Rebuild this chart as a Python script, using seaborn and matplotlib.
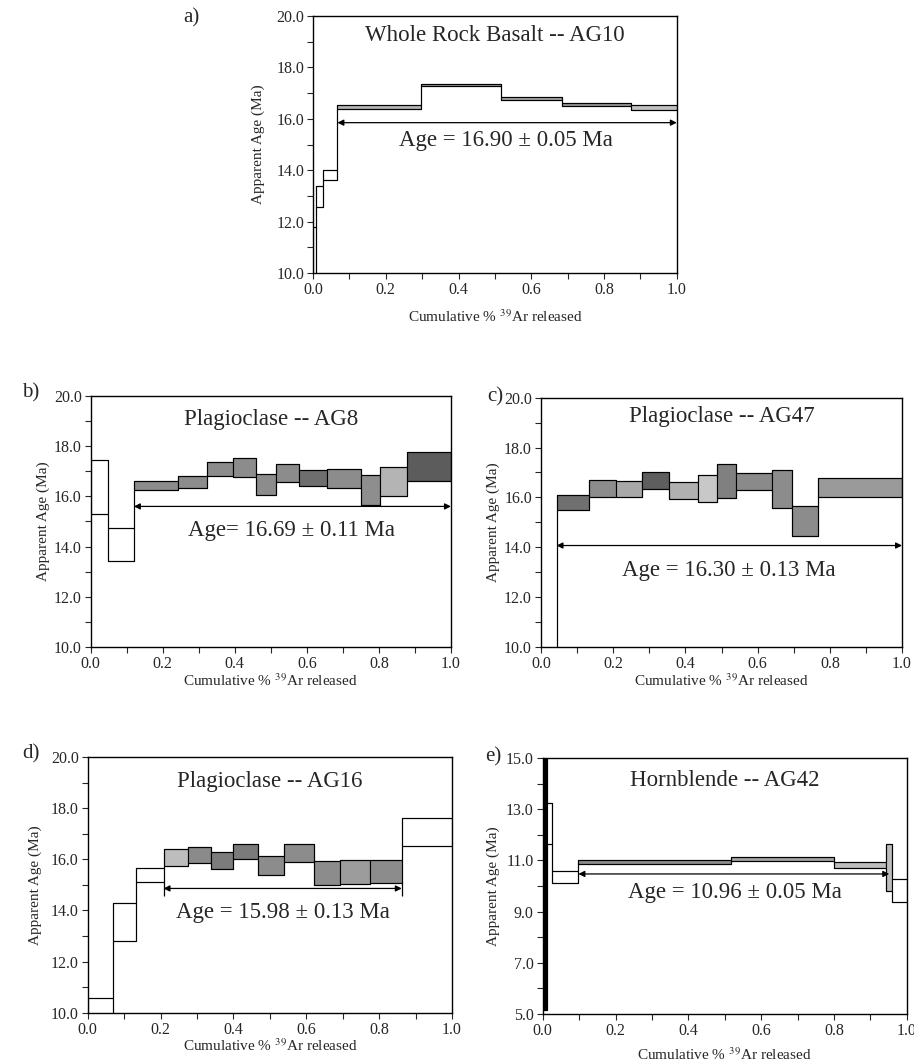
import numpy as np
import pandas as pd
import seaborn as sns
import matplotlib.pyplot as plt
from matplotlib.ticker import MultipleLocator, FormatStrFormatter

# step heating spectra: cumulative 39Ar fraction edges, lower/upper age (Ma)
a_edges = [0.0, 0.008, 0.027, 0.067, 0.297, 0.517, 0.684, 0.874, 1.0]
a_lo = [9.0, 12.57, 13.60, 16.39, 17.26, 16.74, 16.49, 16.33]
a_hi = [11.8, 13.40, 14.00, 16.55, 17.37, 16.85, 16.61, 16.52]

b_edges = [0.0, 0.049, 0.120, 0.241, 0.324, 0.396, 0.459, 0.515, 0.579, 0.655, 0.749, 0.803, 0.877, 1.0]
b_lo = [15.29, 13.42, 16.27, 16.32, 16.80, 16.76, 16.07, 16.56, 16.41, 16.35, 15.67, 16.01, 16.63]
b_hi = [17.43, 14.76, 16.63, 16.80, 17.35, 17.54, 16.90, 17.27, 17.06, 17.08, 16.87, 17.19, 17.77]

c_edges = [0.0, 0.043, 0.133, 0.207, 0.280, 0.354, 0.436, 0.488, 0.541, 0.640, 0.694, 0.768, 1.0]
c_lo = [8.5, 15.48, 16.00, 16.00, 16.32, 15.92, 15.82, 15.97, 16.31, 15.57, 14.44, 16.02]
c_hi = [9.5, 16.08, 16.71, 16.66, 17.01, 16.62, 16.91, 17.33, 16.98, 17.11, 15.64, 16.78]

d_edges = [0.0, 0.068, 0.132, 0.208, 0.274, 0.338, 0.398, 0.468, 0.538, 0.621, 0.693, 0.775, 0.862, 1.0]
d_lo = [9.5, 12.80, 15.10, 15.75, 15.84, 15.62, 16.01, 15.38, 15.88, 15.01, 15.03, 15.08, 16.51]
d_hi = [10.59, 14.28, 15.65, 16.39, 16.48, 16.30, 16.61, 16.12, 16.61, 15.92, 15.96, 15.99, 17.63]

e_edges = [0.0, 0.012, 0.026, 0.098, 0.517, 0.801, 0.943, 0.959, 1.0]
e_lo = [5.17, 11.64, 10.12, 10.86, 10.96, 10.69, 9.82, 9.36]
e_hi = [16.0, 13.24, 10.60, 11.00, 11.12, 10.92, 11.64, 10.27]

titles = ['Whole Rock Basalt -- AG10', 'Plagioclase -- AG8', 'Plagioclase -- AG47',
          'Plagioclase -- AG16', 'Hornblende -- AG42']
age_texts = ['Age = 16.90 \u00b1 0.05 Ma', 'Age= 16.69 \u00b1 0.11 Ma', 'Age = 16.30 \u00b1 0.13 Ma',
             'Age = 15.98 \u00b1 0.13 Ma', 'Age = 10.96 \u00b1 0.05 Ma']
# plateau arrows: start, end, level
plateau_x0 = [0.067, 0.120, 0.043, 0.208, 0.098]
plateau_x1 = [1.0, 1.0, 1.0, 0.862, 0.952]
plateau_y = [15.85, 15.60, 14.07, 14.86, 10.47]
letters = ['a)', 'b)', 'c)', 'd)', 'e)']

# fill shades per step
W = 'white'
a_fill = [W, W, W, '#b4b4b4', '#a0a0a0', '#a8a8a8', '#989898', '#c0c0c0']
b_fill = [W, W, '#8c8c8c', '#8c8c8c', '#8c8c8c', '#8c8c8c', '#8c8c8c', '#8c8c8c',
          '#6e6e6e', '#8c8c8c', '#8e8e8e', '#b4b4b4', '#5c5c5c']
c_fill = [W, '#707070', '#8c8c8c', '#a8a8a8', '#5e5e5e', '#b0b0b0', '#c8c8c8',
          '#808080', '#8a8a8a', '#8c8c8c', '#8c8c8c', '#9a9a9a']
d_fill = [W, W, W, '#bdbdbd', '#8a8a8a', '#7c7c7c', '#7a7a7a', '#8c8c8c', '#8c8c8c',
          '#8c8c8c', '#9c9c9c', '#8c8c8c', W]
e_fill = ['black', W, W, '#8c8c8c', '#a4a4a4', '#bdbdbd', '#bdbdbd', W]

sns.set_style('ticks')
plt.rcParams['font.family'] = ['Liberation Serif', 'DejaVu Serif']
plt.rcParams['mathtext.fontset'] = 'stix'

fig = plt.figure(figsize=(9.14, 10.61), dpi=100)
rects = [[0.3425, 0.7427, 0.398, 0.2422],
         [0.0992, 0.3902, 0.3942, 0.2366],
         [0.5919, 0.3902, 0.3950, 0.2350],
         [0.0960, 0.0455, 0.3986, 0.2410],
         [0.5938, 0.0443, 0.3982, 0.2413]]
xlab_y = [-0.136, -0.102, -0.102, -0.095, -0.125]
ylab_x = [-0.132, -0.114, -0.114, -0.126, -0.117]
letter_pos = [(183, 18), (22, 393), (487, 397), (22, 754), (485, 757)]
title_y = [19.25, 19.06, 19.23, 19.06, 14.11]
age_xy = [(0.53, 15.16), (0.558, 14.65), (0.52, 13.06), (0.537, 13.91), (0.528, 9.73)]

panels = [(a_edges, a_lo, a_hi, a_fill), (b_edges, b_lo, b_hi, b_fill),
          (c_edges, c_lo, c_hi, c_fill), (d_edges, d_lo, d_hi, d_fill),
          (e_edges, e_lo, e_hi, e_fill)]

for i, (edges, lo, hi, fill) in enumerate(panels):
    ax = fig.add_axes(rects[i])
    edges = np.array(edges)
    lo = np.array(lo)
    hi = np.array(hi)
    ax.bar(edges[:-1], hi - lo, width=np.diff(edges), bottom=lo, align='edge',
           color=fill, edgecolor='black', linewidth=0.8, zorder=2)
    df = pd.DataFrame({'x': edges, 'top': np.append(hi, hi[-1]), 'bot': np.append(lo, lo[-1])})
    sns.lineplot(data=df, x='x', y='top', drawstyle='steps-post', color='black',
                 lw=0.8, estimator=None, ax=ax, zorder=3)
    sns.lineplot(data=df, x='x', y='bot', drawstyle='steps-post', color='black',
                 lw=0.8, estimator=None, ax=ax, zorder=3)

    if i == 4:
        ax.set_ylim(5, 15)
        ax.set_yticks([5, 7, 9, 11, 13, 15])
    else:
        ax.set_ylim(10, 20)
        ax.yaxis.set_major_locator(MultipleLocator(2))
    ax.yaxis.set_minor_locator(MultipleLocator(1))
    ax.set_xlim(0, 1)
    ax.xaxis.set_major_locator(MultipleLocator(0.2))
    ax.xaxis.set_minor_locator(MultipleLocator(0.1))
    ax.xaxis.set_major_formatter(FormatStrFormatter('%.1f'))
    ax.yaxis.set_major_formatter(FormatStrFormatter('%.1f'))
    ax.tick_params(which='both', direction='out', length=4.5, width=0.8,
                   labelsize=11.5, pad=2, top=False, right=False)
    for s in ax.spines.values():
        s.set_linewidth(1.0)
        s.set_color('black')

    ax.set_xlabel('Cumulative % $^{39}$Ar released', fontsize=11)
    ax.set_ylabel('Apparent Age (Ma)', fontsize=11)
    ax.xaxis.set_label_coords(0.5, xlab_y[i])
    ax.yaxis.set_label_coords(ylab_x[i], 0.5)

    ax.text(0.5, title_y[i], titles[i], ha='center', va='center', fontsize=16.5)
    ax.text(age_xy[i][0], age_xy[i][1], age_texts[i], ha='center', va='center', fontsize=16.5)
    ax.annotate('', xy=(plateau_x1[i], plateau_y[i]), xytext=(plateau_x0[i], plateau_y[i]),
                arrowprops=dict(arrowstyle='<|-|>', lw=0.9, color='black',
                                mutation_scale=9, shrinkA=0, shrinkB=0), zorder=4)
    if i == 3:
        ax.vlines([plateau_x0[i], plateau_x1[i]], 14.55, 15.1, color='black', lw=0.9)

    fig.text(letter_pos[i][0] / 914, 1 - letter_pos[i][1] / 1061, letters[i],
             ha='left', va='center', fontsize=15)

plt.savefig('out.png', dpi=100)
